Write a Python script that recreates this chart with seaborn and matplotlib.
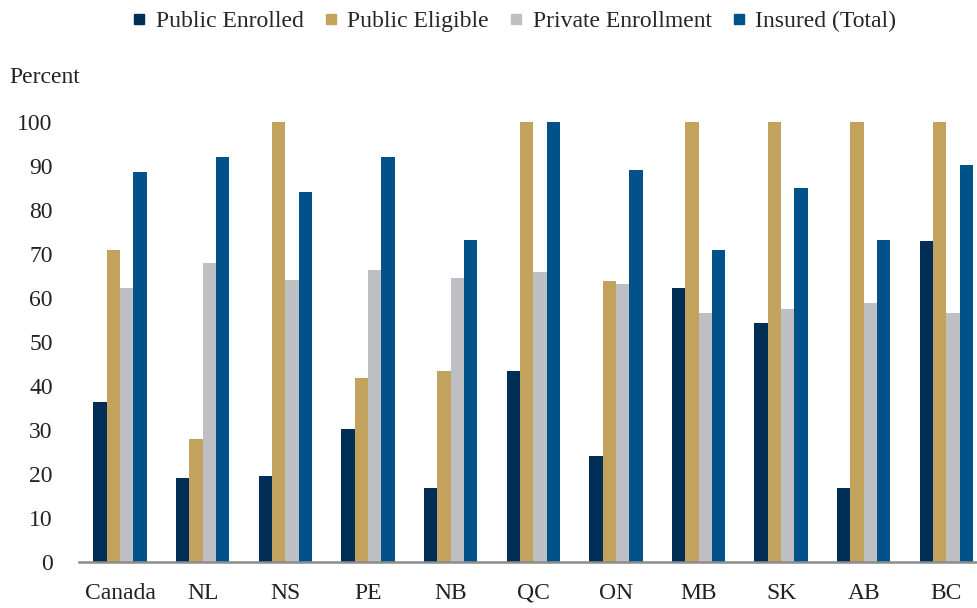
import matplotlib
matplotlib.use("Agg")
import matplotlib.pyplot as plt
from matplotlib.lines import Line2D
import seaborn as sns
import pandas as pd

provinces = ["Canada", "NL", "NS", "PE", "NB", "QC", "ON", "MB", "SK", "AB", "BC"]
series_names = ["Public Enrolled", "Public Eligible", "Private Enrollment", "Insured (Total)"]
public_enrolled = [36.3, 19.2, 19.6, 30.2, 16.9, 43.4, 24.1, 62.2, 54.4, 16.9, 72.9]
public_eligible = [70.9, 27.9, 100, 41.9, 43.4, 100, 63.8, 100, 100, 100, 100]
private_enrollment = [62.2, 67.9, 64.1, 66.4, 64.5, 66.0, 63.1, 56.6, 57.4, 58.9, 56.6]
insured_total = [88.7, 92.0, 84.1, 92.0, 73.2, 100, 89.1, 71.0, 84.9, 73.2, 90.2]
y_ticks = [0, 10, 20, 30, 40, 50, 60, 70, 80, 90, 100]
colors = ["#012E57", "#C2A25C", "#BEBFC2", "#01528B"]

rows = []
for name, vals in zip(series_names, [public_enrolled, public_eligible,
                                     private_enrollment, insured_total]):
    for p, v in zip(provinces, vals):
        rows.append({"province": p, "series": name, "value": v})
df = pd.DataFrame(rows)

sns.set_style("white")
plt.rcParams["font.family"] = ["Liberation Serif", "DejaVu Serif"]
fs = 17

fig = plt.figure(figsize=(9.77, 6.08), dpi=100)
ax = fig.add_axes([0.0809, 0.0757, 0.9191, 0.7236])

sns.barplot(data=df, x="province", y="value", hue="series", order=provinces,
            hue_order=series_names, palette=colors, width=0.645,
            linewidth=0, saturation=1, ax=ax, legend=False)

ax.set_ylim(0, 100)
ax.set_xlim(-0.496, 10.37)
ax.set_yticks(y_ticks)
ax.set_xlabel("")
ax.set_ylabel("")
for s in ["top", "right", "left"]:
    ax.spines[s].set_visible(False)
ax.spines["bottom"].set_color("#8C8C8C")
ax.spines["bottom"].set_linewidth(1.8)
ax.tick_params(axis="y", length=0, pad=19, labelsize=fs, colors="#222222")
ax.tick_params(axis="x", length=0, pad=15, labelsize=fs, colors="#222222")

fig.text(0.010, 0.873, "Percent", fontsize=fs, color="#222222", va="center")

handles = [Line2D([0], [0], marker="s", linestyle="none", markersize=7,
                  markerfacecolor=c, markeredgecolor=c) for c in colors]
fig.legend(handles, series_names, loc="upper center", bbox_to_anchor=(0.527, 1.018),
           ncol=4, frameon=False, fontsize=fs, handlelength=0.5,
           handletextpad=0.45, columnspacing=0.9)

fig.savefig("out.png", dpi=100)
